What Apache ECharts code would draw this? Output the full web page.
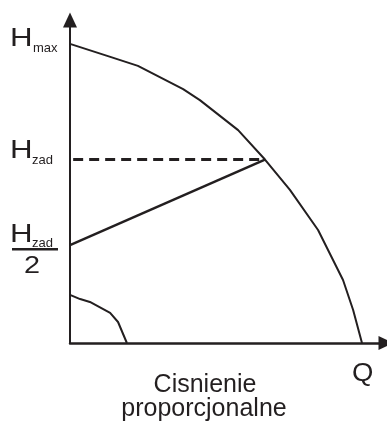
<!DOCTYPE html>
<html>
<head>
<meta charset="utf-8">
<script src="https://cdn.jsdelivr.net/npm/echarts@6/dist/echarts.min.js"></script>
<style>
  html, body { margin: 0; padding: 0; background: #fff; }
  #chart { width: 387px; height: 423px; }
</style>
</head>
<body>
<div id="chart"></div>
<script>
// pump curve, both axes run 0..100
var pumpQ = [0, 13, 21.5, 35.8, 41.1, 53.2, 61.7, 69.6, 78.5, 86.4, 89.6, 92.4];
var pumpH = [92.6, 88.5, 85.8, 78.6, 75.2, 65.9, 56.8, 47.4, 35.0, 19.5, 10.2, 0];
// minimum speed curve
var minQ = [0, 3.2, 6.3, 12.7, 15.2, 18.0];
var minH = [14.9, 13.6, 12.7, 9.3, 6.5, 0];
// set points
var hMax = 92.6;
var hZad = 56.8;
var hHalf = 30.3;
var qZad = 61.7;
var dashStart = 1;

var ink = '#231f20';
var font = '"Liberation Sans", Arial, sans-serif';

function zip(xs, ys) {
  return xs.map(function (x, i) { return [x, ys[i]]; });
}

var chart = echarts.init(document.getElementById('chart'));

var axisCommon = {
  type: 'value',
  min: 0,
  max: 100,
  axisLabel: { show: false },
  axisTick: { show: false },
  splitLine: { show: false }
};

chart.setOption({
  animation: false,
  grid: { left: 70, right: 1, top: 20, bottom: 80 },
  xAxis: Object.assign({}, axisCommon, {
    axisLine: {
      show: true,
      symbol: ['none', 'triangle'],
      symbolSize: [14, 15],
      lineStyle: { color: ink, width: 2.5 }
    }
  }),
  yAxis: Object.assign({}, axisCommon, {
    axisLine: {
      show: true,
      symbol: ['none', 'triangle'],
      symbolSize: [14, 15],
      lineStyle: { color: ink, width: 2 }
    }
  }),
  series: [
    {
      type: 'line',
      data: zip(pumpQ, pumpH),
      symbol: 'none',
      lineStyle: { color: ink, width: 2 }
    },
    {
      type: 'line',
      data: zip(minQ, minH),
      symbol: 'none',
      lineStyle: { color: ink, width: 2 }
    },
    {
      // proportional pressure line
      type: 'line',
      data: [[0, hHalf], [qZad, hZad]],
      symbol: 'none',
      lineStyle: { color: ink, width: 2.5 }
    },
    {
      type: 'line',
      data: [[dashStart, hZad], [qZad, hZad]],
      symbol: 'none',
      lineStyle: { color: ink, width: 3, type: [10, 6] }
    }
  ]
});

function yPx(v) {
  return chart.convertToPixel({ gridIndex: 0 }, [0, v])[1];
}

// text placed by its baseline
function txt(s, x, base, size, align, sx) {
  return {
    type: 'text',
    x: x,
    y: base - 0.31 * size,
    scaleX: sx || 1,
    style: {
      text: s,
      fill: ink,
      font: size + 'px ' + font,
      align: align || 'left',
      verticalAlign: 'middle'
    }
  };
}

var yMax = yPx(hMax), yZad = yPx(hZad), yHalf = yPx(hHalf);

chart.setOption({
  graphic: [
    txt('H', 10, yMax + 3, 25, 'left', 1.25),
    txt('max', 33, yMax + 9, 13),
    txt('H', 10, yZad - 0.5, 25, 'left', 1.25),
    txt('zad', 32, yZad + 4.5, 13),
    txt('H', 10, yHalf - 2, 25, 'left', 1.25),
    txt('zad', 32, yHalf + 2, 13),
    {
      type: 'line',
      shape: { x1: 12, y1: yHalf + 4, x2: 58, y2: yHalf + 4 },
      style: { stroke: ink, lineWidth: 2.5 }
    },
    txt('2', 32, yHalf + 29, 24, 'center', 1.2),
    txt('Q', 352, 382, 25, 'left', 1.1),
    txt('Cisnienie', 205, 393, 25, 'center'),
    txt('proporcjonalne', 204, 417, 25, 'center')
  ]
});
</script>
</body>
</html>
